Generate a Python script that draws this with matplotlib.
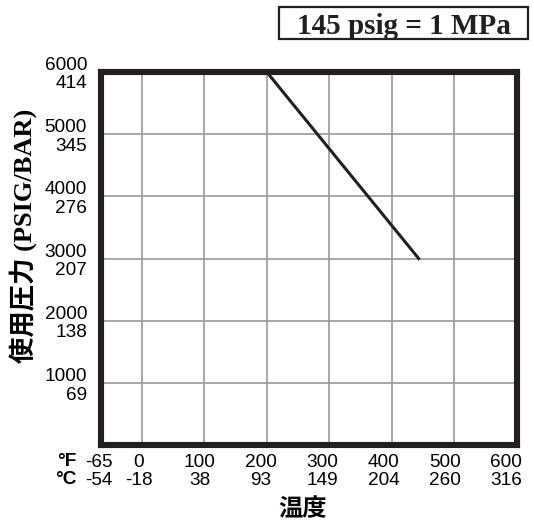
import matplotlib.pyplot as plt
from matplotlib.patches import Rectangle
from matplotlib.transforms import ScaledTranslation

# rating curve: temperature (F) vs working pressure (psig)
temp_f = [-65, 200, 443]
pressure_psig = [6000, 6000, 3000]

x_ticks = [-65, 0, 100, 200, 300, 400, 500, 600]
x_labels_f = ['-65', '0', '100', '200', '300', '400', '500', '600']
x_labels_c = ['-54', '-18', '38', '93', '149', '204', '260', '316']

y_ticks = [1000, 2000, 3000, 4000, 5000, 6000]
y_labels_psig = ['1000', '2000', '3000', '4000', '5000', '6000']
y_labels_bar = ['69', '138', '207', '276', '345', '414']

serif_cjk = ['Liberation Serif', 'Noto Sans CJK JP']
sans = 'Liberation Sans'
dark = '#231f20'

fig = plt.figure(figsize=(5.34, 5.25), dpi=100)
ax = fig.add_axes([0.189, 0.152, 0.779, 0.711])

ax.set_xlim(-65, 600)
ax.set_ylim(0, 6000)

# grid
for x in x_ticks[1:-1]:
    ax.axvline(x, color='#9a9a9a', linewidth=1.2, zorder=1)
for y in y_ticks[:-1]:
    ax.axhline(y, color='#9a9a9a', linewidth=1.2, zorder=1)

ax.plot(temp_f, pressure_psig, color=dark, linewidth=2.2, zorder=3, clip_on=False)

for side in ['left', 'right', 'top', 'bottom']:
    ax.spines[side].set_linewidth(4.4)
    ax.spines[side].set_color(dark)
    ax.spines[side].set_zorder(4)

ax.set_xticks(x_ticks)
ax.set_xticklabels([f + '\n' + c for f, c in zip(x_labels_f, x_labels_c)],
                   fontsize=13.7, family=sans, linespacing=1.12)
ax.set_yticks(y_ticks)
ax.set_yticklabels([p + '\n' + b for p, b in zip(y_labels_psig, y_labels_bar)],
                   fontsize=13.7, family=sans, linespacing=1.12, ha='right')
ax.tick_params(axis='x', length=0, pad=6)
ax.tick_params(axis='y', length=0, pad=10)

# the printed labels sit a little left of the grid lines, more so to the right
for x, lab in zip(x_ticks, ax.get_xticklabels()):
    dx = -3 - 0.0135 * x
    lab.set_transform(lab.get_transform() + ScaledTranslation(dx / 100, 0, fig.dpi_scale_trans))

# unit row markers
fig.text(77 / 534, 1 - 462 / 525, '°F', fontsize=13.7, family=sans, fontweight='bold',
         ha='right', va='center')
fig.text(77 / 534, 1 - 480 / 525, '°C', fontsize=13.7, family=sans, fontweight='bold',
         ha='right', va='center')

fig.text(23 / 534, 1 - 236 / 525, '使用圧力 (PSIG/BAR)', rotation=90, fontsize=19,
         family=serif_cjk, fontweight='bold', ha='center', va='center')
fig.text(303 / 534, 1 - 510 / 525, '温度', fontsize=17.5, family=serif_cjk,
         fontweight='bold', ha='center', va='center')

# conversion note in a box
fig.patches.append(Rectangle((279 / 534, 1 - 39 / 525), 249 / 534, 32 / 525,
                             transform=fig.transFigure, facecolor='white',
                             edgecolor=dark, linewidth=1.6))
fig.text(403.5 / 534, 1 - 34 / 525, '145 psig = 1 MPa', fontsize=21, family='Liberation Serif',
         fontweight='bold', ha='center', va='baseline', color=dark)

fig.savefig('out.png', dpi=100)
